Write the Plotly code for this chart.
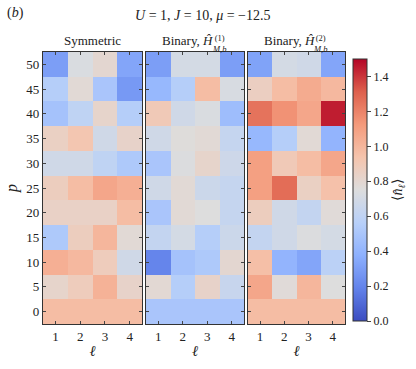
import plotly.graph_objects as go

# p values (rows) and sites l (columns)
p_vals = [0, 5, 10, 15, 20, 25, 30, 35, 40, 45, 50]
ell = [1, 2, 3, 4]

# <n_l>, rows listed from p=0 up to p=50
symmetric = [
    [0.97, 0.97, 0.97, 0.97],
    [0.82, 0.88, 1.02, 0.83],
    [1.03, 0.99, 0.88, 0.68],
    [0.52, 0.87, 1.00, 0.78],
    [0.84, 0.84, 0.84, 0.97],
    [0.87, 0.97, 1.07, 1.03],
    [0.68, 0.68, 0.60, 0.52],
    [0.85, 0.92, 0.68, 0.83],
    [0.48, 0.60, 0.82, 0.55],
    [0.55, 0.78, 0.50, 0.28],
    [0.30, 0.73, 0.80, 0.33],
]
binary_1 = [
    [0.50, 0.50, 0.50, 0.50],
    [0.79, 0.55, 0.83, 0.64],
    [0.20, 0.48, 0.52, 0.80],
    [0.62, 0.70, 0.55, 0.66],
    [0.50, 0.78, 0.75, 0.63],
    [0.68, 0.78, 0.66, 0.63],
    [0.50, 0.74, 0.82, 0.67],
    [0.68, 0.76, 0.78, 0.63],
    [0.90, 0.68, 0.73, 0.45],
    [0.42, 0.55, 0.97, 0.72],
    [0.30, 0.70, 0.70, 0.30],
]
binary_2 = [
    [0.97, 0.97, 0.97, 0.97],
    [1.07, 0.77, 1.00, 0.75],
    [0.96, 0.40, 0.33, 0.58],
    [0.62, 0.68, 0.74, 0.70],
    [0.87, 0.68, 0.62, 0.77],
    [1.10, 1.27, 0.85, 0.95],
    [1.10, 0.90, 0.97, 1.07],
    [0.42, 0.55, 0.78, 0.40],
    [1.25, 1.15, 1.07, 1.45],
    [0.86, 0.97, 1.05, 0.99],
    [0.32, 0.70, 0.68, 0.33],
]
cbar_ticks = [0, 0.2, 0.4, 0.6, 0.8, 1.0, 1.2, 1.4]

coolwarm = [
    [0.0, "rgb(59,76,192)"], [0.125, "rgb(98,130,234)"],
    [0.25, "rgb(141,176,254)"], [0.375, "rgb(184,208,249)"],
    [0.5, "rgb(221,221,221)"], [0.625, "rgb(245,196,173)"],
    [0.75, "rgb(244,154,123)"], [0.875, "rgb(222,96,77)"],
    [1.0, "rgb(180,4,38)"],
]

FONT = "Liberation Serif"
INK = "#222"
W, H = 416, 369
# plot area in pixels: left 43 .. right 345, top 52 .. bottom 324
ML, MR, MT, MB = 43, W - 345, 52, H - 324
PW, PH = W - ML - MR, H - MT - MB


def px_x(x):
    return (x - ML) / PW


def px_y(y):
    return 1 - (y - MT) / PH


def label(x, y, text, size, xanchor="center", yanchor="middle"):
    fig.add_annotation(x=px_x(x), y=px_y(y), xref="paper", yref="paper",
                       text=text, showarrow=False, xanchor=xanchor,
                       yanchor=yanchor, font=dict(family=FONT, size=size, color=INK))


x_px = [(43, 142), (146, 244), (248, 345)]

fig = go.Figure()
layout = {}
for i, (z, (x0, x1)) in enumerate(zip([symmetric, binary_1, binary_2], x_px)):
    n = "" if i == 0 else str(i + 1)
    fig.add_trace(go.Heatmap(
        x=ell, y=p_vals, z=z, zmin=0, zmax=1.5,
        colorscale=coolwarm, showscale=(i == 0),
        xaxis="x" + n, yaxis="y" + n,
        colorbar=dict(
            x=px_x(353), xanchor="left", xpad=0, ypad=0, thickness=14,
            lenmode="pixels", len=262, y=px_y(190), yanchor="middle",
            outlinewidth=1, outlinecolor="#333",
            tickvals=cbar_ticks, tickformat=".1f", ticks="outside", ticklen=4,
            tickfont=dict(family=FONT, size=12, color=INK),
            title=dict(text="⟨<i>n̂</i><sub><i>ℓ</i></sub>⟩", side="right",
                       font=dict(family=FONT, size=14, color=INK)),
        ),
    ))
    layout["xaxis" + n] = dict(
        domain=[px_x(x0), px_x(x1)], anchor="y" + n, automargin=False,
        range=[0.5, 4.5], tickvals=ell, ticks="inside", ticklen=3,
        mirror="ticks", showline=True, linecolor="#333", linewidth=1.2,
        tickfont=dict(family=FONT, size=13, color=INK),
        title=dict(text="<i>ℓ</i>", standoff=2,
                   font=dict(family=FONT, size=15, color=INK)),
        showgrid=False, zeroline=False,
    )
    layout["yaxis" + n] = dict(
        domain=[0, 1], anchor="x" + n, automargin=False,
        range=[-2.5, 52.5], tickvals=p_vals, ticks="inside", ticklen=3,
        showticklabels=(i == 0), mirror="ticks", showline=True,
        linecolor="#333", linewidth=1.2,
        tickfont=dict(family=FONT, size=13, color=INK),
        showgrid=False, zeroline=False,
    )
layout["yaxis"]["title"] = dict(text="<i>p</i>", standoff=4,
                                font=dict(family=FONT, size=16, color=INK))

# panel titles (superscript and subscript stacked like the original)
label(92.5, 50, "Symmetric", 13, yanchor="bottom")
for k, (x0, x1) in enumerate(x_px[1:], start=1):
    start = (x0 + x1) / 2 - 35
    label(start, 50, "Binary, <i>Ĥ</i>", 13, xanchor="left", yanchor="bottom")
    label(start + 49.5, 43.5, "(%d)<br><i>M,b</i>" % k, 8.5, xanchor="left")

label(15, 13, "(<i>b</i>)", 14)
label(202, 15, "<i>U</i> = 1, <i>J</i> = 10, <i>μ</i> = −12.5", 14)

fig.update_layout(
    width=W, height=H, margin=dict(l=ML, r=MR, t=MT, b=MB, autoexpand=False),
    paper_bgcolor="white", plot_bgcolor="white",
    font=dict(family=FONT, color=INK),
    **layout,
)
fig.write_html("out.html", config={"displayModeBar": False},
               post_script="document.body.style.margin='0px';")
